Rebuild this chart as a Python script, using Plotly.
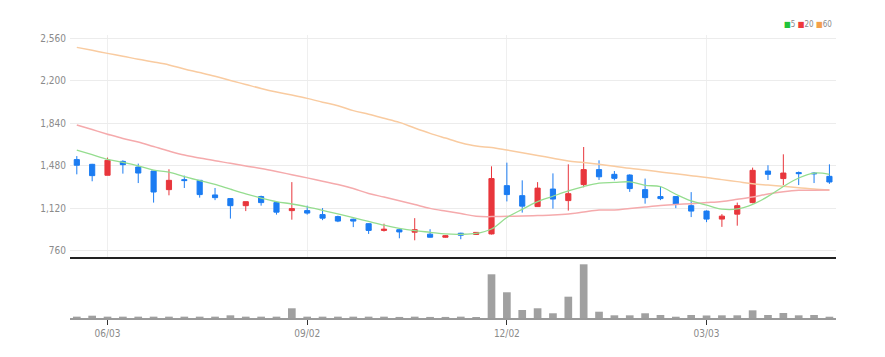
import plotly.graph_objects as go
import pandas as pd

dates = ["2024-05-20","2024-05-27","2024-06-03","2024-06-10","2024-06-17","2024-06-24",
         "2024-07-01","2024-07-08","2024-07-15","2024-07-22","2024-07-29","2024-08-05",
         "2024-08-12","2024-08-19","2024-08-26","2024-09-02","2024-09-09","2024-09-16",
         "2024-09-23","2024-09-30","2024-10-07","2024-10-14","2024-10-21","2024-10-28",
         "2024-11-04","2024-11-11","2024-11-18","2024-11-25","2024-12-02","2024-12-09",
         "2024-12-16","2024-12-23","2024-12-30","2025-01-06","2025-01-13","2025-01-20",
         "2025-01-27","2025-02-03","2025-02-10","2025-02-17","2025-02-24","2025-03-03",
         "2025-03-10","2025-03-17","2025-03-24","2025-03-31","2025-04-07","2025-04-14",
         "2025-04-21","2025-04-28"]

open_ = [1531,1491,1398,1516,1468,1434,1276,1361,1355,1231,1200,1140,1217,1166,1098,1098,1064,1047,1025,987,
         930,936,915,898,872,906,896,900,1310,1225,1132,1281,1183,1319,1446,1406,1400,1276,1217,1217,
         1140,1094,1026,1068,1166,1434,1370,1421,1417,1389]
high = [1561,1495,1548,1525,1497,1434,1449,1395,1358,1290,1200,1174,1225,1174,1340,1140,1119,1055,1030,990,
        987,940,1034,940,890,910,915,1474,1505,1355,1340,1414,1491,1638,1525,1434,1406,1370,1302,1217,
        1255,1100,1068,1166,1463,1483,1576,1430,1425,1491]
low = [1406,1347,1398,1412,1332,1166,1228,1290,1208,1187,1030,1094,1140,1064,1021,1064,1017,1000,958,900,
       920,863,846,870,868,855,893,895,1176,1081,1130,1115,1098,1296,1358,1355,1257,1157,1187,1119,
       1043,1000,960,970,1160,1358,1315,1315,1332,1325]
close = [1483,1395,1525,1488,1417,1256,1355,1353,1234,1208,1140,1174,1166,1085,1115,1077,1034,1009,1009,930,
         940,917,936,872,885,889,913,1370,1234,1136,1289,1196,1242,1446,1385,1372,1285,1208,1200,1153,
         1094,1026,1051,1140,1440,1406,1417,1412,1411,1341]

ma5 = [1612,1573,1534,1508,1478,1442,1424,1387,1353,1320,1280,1241,1205,1175,1154,1130,1100,1070,1039,1006,
       974,948,928,914,900,897,904,942,1039,1109,1174,1220,1265,1302,1331,1337,1342,1313,1301,1237,
       1180,1145,1111,1112,1151,1219,1303,1375,1417,1406]
ma20 = [1825,1786,1747,1710,1680,1642,1604,1570,1545,1521,1500,1477,1455,1430,1403,1376,1347,1319,1285,1244,
        1213,1182,1150,1117,1094,1073,1050,1047,1050,1052,1056,1060,1069,1086,1103,1103,1116,1129,1141,1150,
        1157,1166,1176,1194,1213,1239,1258,1270,1271,1273]
ma60 = [2484,2459,2433,2409,2383,2360,2335,2301,2270,2238,2203,2169,2135,2105,2079,2051,2018,1989,1947,1916,
        1882,1847,1799,1754,1714,1675,1646,1633,1612,1590,1566,1543,1519,1507,1491,1475,1457,1442,1426,1410,
        1395,1380,1361,1344,1326,1315,1304,1293,1281,1272]

volume = [25,43,25,25,25,25,25,25,25,25,50,25,25,25,181,25,25,25,25,25,
          25,20,25,20,20,25,10,814,479,149,181,88,397,1000,117,50,50,88,56,24,
          56,47,50,50,143,56,93,50,56,24]

tick_dates = ["2024-06-03","2024-09-02","2024-12-02","2025-03-03"]
tick_text = ["06/03","09/02","12/02","03/03"]
y_ticks = [760,1120,1480,1840,2200,2560]

UP = "#e8363c"
DOWN = "#1b7cf2"
FONT = "Liberation Sans Narrow, DejaVu Sans Condensed, sans-serif"

x = pd.to_datetime(dates)
xr = [x[0] - pd.Timedelta(days=3.1), x[-1] + pd.Timedelta(days=3.0)]

fig = go.Figure()
fig.add_trace(go.Scatter(x=x, y=ma60, mode="lines", line=dict(color="#f9cba0", width=1.5, shape="spline"),
                         hoverinfo="skip", xaxis="x", yaxis="y"))
fig.add_trace(go.Scatter(x=x, y=ma20, mode="lines", line=dict(color="#f5aaac", width=1.5, shape="spline"),
                         hoverinfo="skip", xaxis="x", yaxis="y"))
fig.add_trace(go.Scatter(x=x, y=ma5, mode="lines", line=dict(color="#95dd8f", width=1.3, shape="spline"),
                         hoverinfo="skip", xaxis="x", yaxis="y"))
fig.add_trace(go.Candlestick(x=x, open=open_, high=high, low=low, close=close,
                             increasing=dict(line=dict(color=UP, width=1), fillcolor=UP),
                             decreasing=dict(line=dict(color=DOWN, width=1), fillcolor=DOWN),
                             whiskerwidth=0, xaxis="x", yaxis="y"))
fig.add_trace(go.Bar(x=x, y=volume, width=7*24*3600*1000*0.5, marker=dict(color="#a0a0a0", line=dict(width=0)),
                     xaxis="x2", yaxis="y2"))

fig.update_layout(
    width=877, height=349,
    margin=dict(l=62, r=49, t=27, b=39),
    paper_bgcolor="white", plot_bgcolor="white",
    showlegend=False, boxgap=0.52,
    font=dict(family=FONT, size=10, color="#8a8a8a"),
    xaxis=dict(type="date", range=xr, domain=[0, 1], anchor="y",
               rangeslider=dict(visible=False),
               tickvals=tick_dates, ticktext=tick_text, showticklabels=False,
               showgrid=True, gridcolor="#efefef", gridwidth=1,
               showline=True, linecolor="#222222", linewidth=2, ticks="", zeroline=False),
    yaxis=dict(domain=[0.2155, 1], range=[704, 2589], tickvals=y_ticks, tickformat=",d",
               showgrid=True, gridcolor="#ececec", gridwidth=1, zeroline=False,
               showline=False, ticks="", ticklabelstandoff=3),
    xaxis2=dict(type="date", range=xr, domain=[0, 1], anchor="y2",
                tickvals=tick_dates, ticktext=tick_text, showgrid=False,
                showline=True, linecolor="#9a9a9a", linewidth=2,
                ticks="outside", ticklen=5, tickcolor="#333333", tickwidth=1, zeroline=False),
    yaxis2=dict(domain=[0, 0.1979], range=[0, 1043], showticklabels=False, showgrid=False,
                zeroline=False, showline=False, ticks=""),
    annotations=[dict(
        xref="paper", yref="paper", x=0.997, y=1.037, xanchor="right", yanchor="middle", showarrow=False,
        text='<span style="color:#22c33a">■</span>5 <span style="color:#ee3a3a">■</span>20 '
             '<span style="color:#f3a04a">■</span>60',
        font=dict(family=FONT, size=8, color="#8a8a8a"))],
)

fig.write_html("out.html")
